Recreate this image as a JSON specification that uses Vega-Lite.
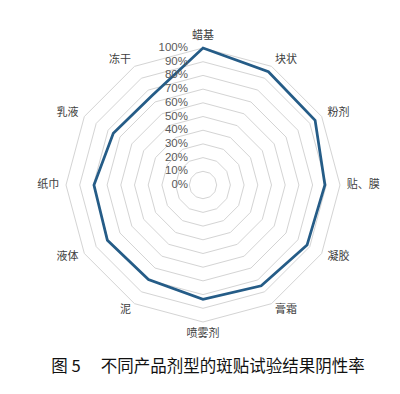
{
  "$schema": "https://vega.github.io/schema/vega-lite/v6.json",
  "width": 400,
  "height": 394,
  "autosize": "none",
  "padding": 0,
  "background": "white",
  "config": {"view": {"stroke": null}},
  "datasets": {
    "rates": [
      {"cat": "蜡基", "value": 1.0},
      {"cat": "块状", "value": 0.955},
      {"cat": "粉剂", "value": 0.945},
      {"cat": "贴、膜", "value": 0.89},
      {"cat": "凝胶", "value": 0.877},
      {"cat": "膏霜", "value": 0.85},
      {"cat": "喷雾剂", "value": 0.835},
      {"cat": "泥", "value": 0.796},
      {"cat": "液体", "value": 0.806},
      {"cat": "纸巾", "value": 0.796},
      {"cat": "乳液", "value": 0.756},
      {"cat": "冻干", "value": 0.75}
    ],
    "levels": [
      {"level": 0}, {"level": 0.1}, {"level": 0.2}, {"level": 0.3}, {"level": 0.4},
      {"level": 0.5}, {"level": 0.6}, {"level": 0.7}, {"level": 0.8}, {"level": 0.9}, {"level": 1.0}
    ]
  },
  "title": {
    "text": "图 5\u3000\u00a0不同产品剂型的斑贴试验结果阴性率",
    "orient": "bottom",
    "frame": "group",
    "anchor": "middle",
    "offset": -35,
    "dx": 8,
    "font": "Noto Sans CJK SC",
    "fontSize": 16.5,
    "fontWeight": "normal",
    "color": "#111111"
  },
  "layer": [
    {
      "data": {"name": "levels"},
      "transform": [{"filter": "datum.level > 0"}],
      "mark": {
        "type": "point",
        "shape": "M0,-1L0.5,-0.866L0.866,-0.5L1,0L0.866,0.5L0.5,0.866L0,1L-0.5,0.866L-0.866,0.5L-1,0L-0.866,-0.5L-0.5,-0.866Z",
        "filled": false,
        "stroke": "#d4d4d4",
        "strokeWidth": 1,
        "opacity": 1
      },
      "encoding": {
        "x": {"datum": 0, "type": "quantitative", "scale": {"domain": [-1.4818, 1.438], "nice": false, "zero": false}, "axis": null},
        "y": {"datum": 0, "type": "quantitative", "scale": {"domain": [-1.5255, 1.3504], "nice": false, "zero": false}, "axis": null},
        "size": {"field": "level", "type": "quantitative", "scale": {"type": "pow", "exponent": 2, "domain": [0, 1], "range": [0, 75076]}, "legend": null}
      }
    },
    {
      "data": {"name": "rates"},
      "transform": [
        {"window": [{"op": "row_number", "as": "rn"}]},
        {"calculate": "(datum.rn - 1) * PI / 6", "as": "ang"},
        {"calculate": "datum.value * sin(datum.ang)", "as": "px"},
        {"calculate": "datum.value * cos(datum.ang)", "as": "py"}
      ],
      "mark": {"type": "line", "interpolate": "linear-closed", "stroke": "#255c87", "strokeWidth": 2.75, "strokeJoin": "miter"},
      "encoding": {
        "x": {"field": "px", "type": "quantitative", "scale": {"domain": [-1.4818, 1.438], "nice": false, "zero": false}, "axis": null},
        "y": {"field": "py", "type": "quantitative", "scale": {"domain": [-1.5255, 1.3504], "nice": false, "zero": false}, "axis": null},
        "order": {"field": "rn", "type": "quantitative"}
      }
    },
    {
      "data": {"name": "levels"},
      "mark": {"type": "text", "align": "right", "baseline": "middle", "dx": -15, "font": "Liberation Sans", "fontSize": 11.5, "color": "#595959"},
      "encoding": {
        "x": {"datum": 0, "type": "quantitative", "scale": {"domain": [-1.4818, 1.438], "nice": false, "zero": false}, "axis": null},
        "y": {"field": "level", "type": "quantitative", "scale": {"domain": [-1.5255, 1.3504], "nice": false, "zero": false}, "axis": null},
        "text": {"field": "level", "type": "quantitative", "format": ".0%"}
      }
    },
    {
      "data": {"name": "rates"},
      "transform": [
        {"window": [{"op": "row_number", "as": "rn"}]},
        {"calculate": "(datum.rn - 1) * PI / 6", "as": "ang"},
        {"calculate": "1.05 * sin(datum.ang)", "as": "lx"},
        {"calculate": "1.05 * cos(datum.ang)", "as": "ly"},
        {"filter": "datum.rn >= 2 && datum.rn <= 6"}
      ],
      "mark": {"type": "text", "align": "left", "baseline": "middle", "font": "Noto Sans CJK SC", "fontSize": 11, "color": "#404040"},
      "encoding": {
        "x": {"field": "lx", "type": "quantitative", "scale": {"domain": [-1.4818, 1.438], "nice": false, "zero": false}, "axis": null},
        "y": {"field": "ly", "type": "quantitative", "scale": {"domain": [-1.5255, 1.3504], "nice": false, "zero": false}, "axis": null},
        "text": {"field": "cat"}
      }
    },
    {
      "data": {"name": "rates"},
      "transform": [
        {"window": [{"op": "row_number", "as": "rn"}]},
        {"calculate": "(datum.rn - 1) * PI / 6", "as": "ang"},
        {"calculate": "1.05 * sin(datum.ang)", "as": "lx"},
        {"calculate": "1.05 * cos(datum.ang)", "as": "ly"},
        {"filter": "datum.rn >= 8"}
      ],
      "mark": {"type": "text", "align": "right", "baseline": "middle", "font": "Noto Sans CJK SC", "fontSize": 11, "color": "#404040"},
      "encoding": {
        "x": {"field": "lx", "type": "quantitative", "scale": {"domain": [-1.4818, 1.438], "nice": false, "zero": false}, "axis": null},
        "y": {"field": "ly", "type": "quantitative", "scale": {"domain": [-1.5255, 1.3504], "nice": false, "zero": false}, "axis": null},
        "text": {"field": "cat"}
      }
    },
    {
      "data": {"name": "rates"},
      "transform": [
        {"window": [{"op": "row_number", "as": "rn"}]},
        {"filter": "datum.rn == 1"}
      ],
      "mark": {"type": "text", "align": "center", "baseline": "bottom", "dy": 0, "font": "Noto Sans CJK SC", "fontSize": 11, "color": "#404040"},
      "encoding": {
        "x": {"datum": 0, "type": "quantitative", "scale": {"domain": [-1.4818, 1.438], "nice": false, "zero": false}, "axis": null},
        "y": {"datum": 1.05, "type": "quantitative", "scale": {"domain": [-1.5255, 1.3504], "nice": false, "zero": false}, "axis": null},
        "text": {"field": "cat"}
      }
    },
    {
      "data": {"name": "rates"},
      "transform": [
        {"window": [{"op": "row_number", "as": "rn"}]},
        {"filter": "datum.rn == 7"}
      ],
      "mark": {"type": "text", "align": "center", "baseline": "top", "dy": -1, "font": "Noto Sans CJK SC", "fontSize": 11, "color": "#404040"},
      "encoding": {
        "x": {"datum": 0, "type": "quantitative", "scale": {"domain": [-1.4818, 1.438], "nice": false, "zero": false}, "axis": null},
        "y": {"datum": -1.05, "type": "quantitative", "scale": {"domain": [-1.5255, 1.3504], "nice": false, "zero": false}, "axis": null},
        "text": {"field": "cat"}
      }
    }
  ]
}
